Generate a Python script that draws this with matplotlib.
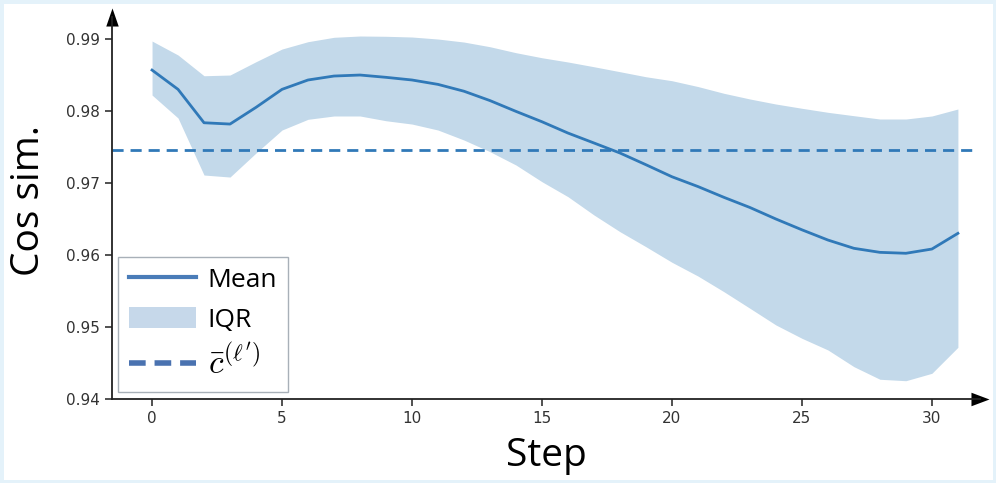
import matplotlib
matplotlib.use("Agg")
import matplotlib.pyplot as plt
from matplotlib.patches import Rectangle, Patch
from matplotlib.lines import Line2D

steps = list(range(32))
mean_vals = [0.98569, 0.98301, 0.97837, 0.97819, 0.98051, 0.98301, 0.98431, 0.98486,
             0.98500, 0.98468, 0.98431, 0.98370, 0.98275, 0.98145, 0.97995, 0.97851,
             0.97694, 0.97556, 0.97417, 0.97254, 0.97087, 0.96951, 0.96801, 0.96660,
             0.96500, 0.96350, 0.96208, 0.96093, 0.96037, 0.96024, 0.96083, 0.96301]
upper_vals = [0.98972, 0.98778, 0.98490, 0.98500, 0.98685, 0.98861, 0.98963, 0.99024,
              0.99042, 0.99038, 0.99028, 0.99000, 0.98958, 0.98893, 0.98810, 0.98740,
              0.98681, 0.98615, 0.98546, 0.98476, 0.98421, 0.98340, 0.98246, 0.98167,
              0.98097, 0.98038, 0.97982, 0.97935, 0.97889, 0.97889, 0.97931, 0.98028]
lower_vals = [0.98222, 0.97903, 0.97111, 0.97083, 0.97417, 0.97736, 0.97885, 0.97931,
              0.97931, 0.97865, 0.97819, 0.97736, 0.97597, 0.97435, 0.97250, 0.97018,
              0.96810, 0.96556, 0.96324, 0.96115, 0.95899, 0.95708, 0.95490, 0.95260,
              0.95028, 0.94843, 0.94681, 0.94449, 0.94274, 0.94254, 0.94357, 0.94718]
c_bar = 0.97458
x_ticks = [0, 5, 10, 15, 20, 25, 30]
y_ticks = [0.94, 0.95, 0.96, 0.97, 0.98, 0.99]
labels = ["Mean", "IQR", r"$\bar{c}^{(\ell^{\prime})}$"]

plt.rcParams["mathtext.fontset"] = "cm"

fig = plt.figure(figsize=(9.96, 4.83), dpi=100)
W, H = 996, 483
ax_left, ax_right, ax_top, ax_bottom = 112, 980, 17, 399
ax = fig.add_axes([ax_left / W, (H - ax_bottom) / H,
                   (ax_right - ax_left) / W, (ax_bottom - ax_top) / H])

line_c = "#3079b8"
fill_c = "#c3d9ea"

ax.fill_between(steps, lower_vals, upper_vals, color=fill_c, lw=0)
ax.plot(steps, mean_vals, color=line_c, lw=2)
ax.axhline(c_bar, xmax=(978 - ax_left) / (ax_right - ax_left), color=line_c, lw=2,
           ls=(0, (4, 2.5)))

ax.set_xlim(-1.54, 31.85)
ax.set_ylim(0.94, 0.99306)
ax.set_xticks(x_ticks)
ax.set_yticks(y_ticks)
ax.set_yticklabels([f"{v:.2f}" for v in y_ticks])
ax.tick_params(labelsize=11, length=5, width=1.2, color="#333333", labelcolor="#333333")

for s in ["top", "right"]:
    ax.spines[s].set_visible(False)
for s in ["left", "bottom"]:
    ax.spines[s].set_linewidth(1.3)
    ax.spines[s].set_color("#222222")

up_arrow = [(-0.69, -1), (0, 1), (0.69, -1), (-0.69, -1)]
right_arrow = [(-1, -0.75), (1, 0), (-1, 0.75), (-1, -0.75)]
ax.plot(1.0, 0, marker=right_arrow, ms=13, color="black", mew=0,
        transform=ax.transAxes, clip_on=False)
ax.plot(0, 1.0, marker=up_arrow, ms=13, color="black", mew=0,
        transform=ax.transAxes, clip_on=False)

lab_font = ["Open Sans", "DejaVu Sans"]
ax.set_xlabel("Step", fontsize=28, family=lab_font, labelpad=8)
ax.set_ylabel("Cos sim.", fontsize=28, family=lab_font)
ax.yaxis.set_label_coords(-(ax_left - 48) / (ax_right - ax_left), 0.52)

handles = [Line2D([], [], color="#4a7cb8", lw=3),
           Patch(facecolor="#c6d8ea", edgecolor="none"),
           Line2D([], [], color="#4a72b0", lw=4, ls=(0, (3, 1.6)))]
leg = ax.legend(handles, labels,
                loc="lower left",
                bbox_to_anchor=((118 - ax_left) / (ax_right - ax_left),
                                (ax_bottom - 392) / (ax_bottom - ax_top)),
                borderaxespad=0, fancybox=False,
                prop={"family": lab_font, "size": 19},
                handlelength=2.55, handleheight=0.9, borderpad=0.4,
                labelspacing=0.5, handletextpad=0.45, framealpha=1)
leg.get_texts()[2].set_fontsize(24)
leg.get_frame().set_edgecolor("#a8b0b8")
leg.get_frame().set_linewidth(1.0)

fig.patches.append(Rectangle((0, 0), 1, 1, transform=fig.transFigure, fill=False,
                             edgecolor="#e4f2fa", lw=5, zorder=10))

fig.savefig("out.png", dpi=100)
